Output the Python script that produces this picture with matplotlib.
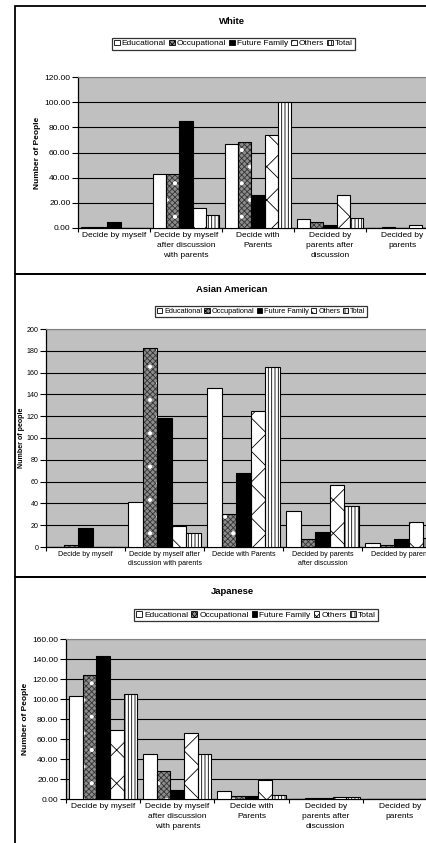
import matplotlib
matplotlib.use("Agg")
import matplotlib.pyplot as plt
from matplotlib.patches import Patch, Rectangle
from matplotlib.ticker import FixedLocator, FormatStrFormatter
import numpy as np

plt.rcParams["font.family"] = ["Liberation Sans", "DejaVu Sans"]
plt.rcParams["hatch.linewidth"] = 0.6

SERIES = ["Educational", "Occupational", "Future Family", "Others", "Total"]

cats_long = ["Decide by myself", "Decide by myself\nafter discussion\nwith parents",
             "Decide with\nParents", "Decided by\nparents after\ndiscussion",
             "Decided by\nparents"]
cats_asian = ["Decide by myself", "Decide by myself after\ndiscussion with parents",
              "Decide with Parents", "Decided by parents\nafter discussion",
              "Decided by parents"]

white_educational = [1, 43, 67, 7, 0]
white_occupational = [1, 43, 68, 5, 1]
white_future = [5, 85, 26, 2, 0]
white_others = [0, 16, 74, 26, 2]
white_total = [0, 10, 100, 8, 0]

asian_educational = [0, 41, 146, 33, 4]
asian_occupational = [2, 183, 30, 7, 2]
asian_future = [17, 118, 68, 14, 7]
asian_others = [0, 19, 125, 57, 23]
asian_total = [0, 13, 165, 38, 8]

japanese_educational = [103, 45, 8, 0, 0]
japanese_occupational = [124, 28, 3, 1, 0]
japanese_future = [143, 9, 3, 1, 0]
japanese_others = [69, 66, 19, 2, 0]
japanese_total = [105, 45, 4, 2, 0]

# face colour, hatch, hatch colour for each series
STYLE = {
    "Educational": ("white", None, "black"),
    "Occupational": ("#8c8c8c", "xxxxxx", "#333333"),
    "Future Family": ("black", None, "black"),
    "Others": ("white", "x", "black"),
    "Total": ("white", "|||||", "black"),
}

W, H = 427, 843
fig = plt.figure(figsize=(W / 100, H / 100), dpi=100)


def px_axes(left, right, top, bottom):
    return fig.add_axes([left / W, 1 - bottom / H, (right - left) / W, (bottom - top) / H])


def draw_panel(ax, cats, values, ymax, ystep, fmt, fs, ylabel, lsp):
    n = len(SERIES)
    bw = 0.184
    x = np.arange(len(cats))
    ax.set_facecolor("#c0c0c0")
    for j, (name, vals) in enumerate(zip(SERIES, values)):
        face, hatch, hc = STYLE[name]
        pos = x + (j - (n - 1) / 2) * bw
        ax.bar(pos, vals, bw, color=face, hatch=hatch, edgecolor=hc, linewidth=0, zorder=3)
        if name == "Occupational":
            # sparse white specks over the checker
            ax.bar(pos, vals, bw, fill=False, hatch=".", edgecolor="white",
                   linewidth=0, zorder=3.5)
        ax.bar(pos, vals, bw, fill=False, edgecolor="black", linewidth=0.8, zorder=4)
    ax.set_xlim(-0.5, len(cats) - 0.5)
    ax.set_ylim(0, ymax)
    ax.yaxis.set_major_locator(FixedLocator(np.arange(0, ymax + ystep / 2, ystep)))
    ax.yaxis.set_major_formatter(FormatStrFormatter(fmt))
    ax.grid(axis="y", color="black", linewidth=0.8, zorder=1)
    ax.set_axisbelow(True)
    ax.set_xticks(x)
    ax.set_xticklabels(cats, fontsize=fs, linespacing=lsp)
    ax.set_xticks(np.arange(len(cats) + 1) - 0.5, minor=True)
    ax.tick_params(axis="x", which="major", length=0, pad=3)
    ax.tick_params(axis="x", which="minor", length=3, width=0.8)
    ax.tick_params(axis="y", labelsize=fs, length=4, width=0.8, pad=1.5)
    ax.spines["right"].set_visible(False)
    ax.spines["top"].set_color("#808080")
    ax.spines["left"].set_linewidth(0.9)
    ax.spines["bottom"].set_linewidth(0.9)
    ax.set_ylabel(ylabel, fontsize=fs, fontweight="bold")


def legend_at(xc, yc, fs):
    handles = [Patch(facecolor=STYLE[s][0], hatch=STYLE[s][1], edgecolor="black",
                     linewidth=0.6) for s in SERIES]
    leg = fig.legend(handles, SERIES, loc="center", bbox_to_anchor=(xc / W, 1 - yc / H),
                     ncol=5, fontsize=fs, frameon=True, fancybox=False, edgecolor="black",
                     borderpad=0.25, handlelength=0.7, handleheight=0.7,
                     handletextpad=0.25, columnspacing=0.35, borderaxespad=0)
    leg.get_frame().set_linewidth(0.9)


# panel frames
for top, bottom in [(6, 274), (274, 577), (577, 846)]:
    fig.add_artist(Rectangle((15 / W, 1 - bottom / H), 1.0, (bottom - top) / H,
                             transform=fig.transFigure, fill=False,
                             edgecolor="black", linewidth=1.3))

# White
ax1 = px_axes(78, 438, 77, 228)
draw_panel(ax1, cats_long,
           [white_educational, white_occupational, white_future, white_others, white_total],
           120, 20, "%.2f", 6, "Number of People", 1.55)
ax1.yaxis.set_label_coords(-0.103, 0.5)
fig.text(232 / W, 1 - 21 / H, "White", ha="center", va="center", fontsize=6.8,
         fontweight="bold")
legend_at(233.5, 43.5, 6)

# Asian American
ax2 = px_axes(46, 441, 329, 547)
draw_panel(ax2, cats_asian,
           [asian_educational, asian_occupational, asian_future, asian_others, asian_total],
           200, 20, "%d", 5.1, "Number of people", 1.3)
ax2.yaxis.set_label_coords(-0.053, 0.5)
fig.text(232 / W, 1 - 290 / H, "Asian American", ha="center", va="center", fontsize=6.8,
         fontweight="bold")
legend_at(261, 311.5, 5.3)

# Japanese
ax3 = px_axes(66, 437, 639, 799)
draw_panel(ax3, cats_long,
           [japanese_educational, japanese_occupational, japanese_future, japanese_others,
            japanese_total],
           160, 20, "%.2f", 6, "Number of People", 1.55)
ax3.yaxis.set_label_coords(-0.1, 0.5)
fig.text(232 / W, 1 - 591 / H, "Japanese", ha="center", va="center", fontsize=6.8,
         fontweight="bold")
legend_at(256, 615, 6)

fig.savefig("out.png", dpi=100)
